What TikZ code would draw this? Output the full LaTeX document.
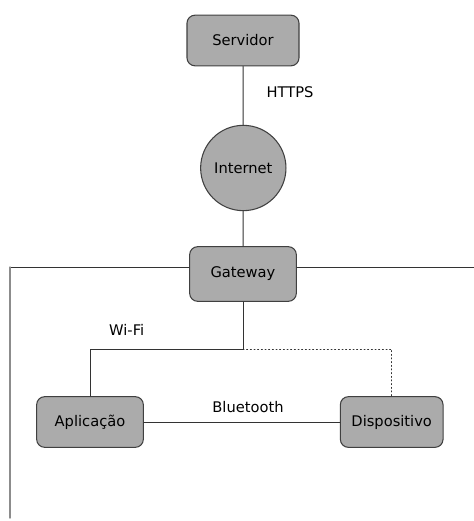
\documentclass[tikz,border=0pt]{standalone}
\usepackage{fontspec}
\setmainfont{DejaVu Sans}
\usepackage{tikz}
\usetikzlibrary{positioning}
\begin{document}
\begin{tikzpicture}[line cap=round,line join=round,x=0.75pt,y=-0.75pt,
  box/.style={draw=black!75,fill=black!33,rounded corners=6pt,line width=0.8pt,font=\fontsize{11}{13}\selectfont},
  hub/.style={draw=black!75,fill=black!33,circle,line width=0.8pt,minimum size=64pt,inner sep=0pt,font=\fontsize{11}{13}\selectfont},
  link/.style={draw=black!80,line width=0.75pt},
  tag/.style={font=\fontsize{11}{13}\selectfont}]
\useasboundingbox (0,0) rectangle (474,521);
\node[box,minimum width=84pt,minimum height=38pt] (servidor) at (243,40.5) {Servidor};
\node[hub] (internet) at (243.3,168) {Internet};
\node[box,minimum width=80pt,minimum height=41pt] (gateway) at (243,274) {Gateway};
\node[box,minimum width=80pt,minimum height=38pt] (aplicacao) at (90,422) {Aplicação};
\node[box,minimum width=77pt,minimum height=38pt] (dispositivo) at (391.7,422) {Dispositivo};
\coordinate (gwleft) at (10,267);
\coordinate (gwright) at (474,267);
\coordinate (bottom) at (10,518);
\coordinate (wifi) at (243,349);
\draw[link] (servidor) -- (internet);
\draw[link] (internet) -- (gateway);
\draw[link] (gateway.west |- gwleft) -- (gwleft);
\draw[link] (gateway.east |- gwright) -- (gwright);
\draw[draw=black!45,line width=1pt] (gwleft) -- (bottom);
\draw[link] (gateway) -- (wifi) -| (aplicacao);
\draw[link,dotted] (wifi) -| (dispositivo);
\draw[link] (aplicacao) -- (dispositivo);
\node[tag] (https) at (290,92) {HTTPS};
\node[tag] (wifitag) at (126.7,330) {Wi-Fi};
\node[tag] (bttag) at (248,406.7) {Bluetooth};
\end{tikzpicture}
\end{document}
